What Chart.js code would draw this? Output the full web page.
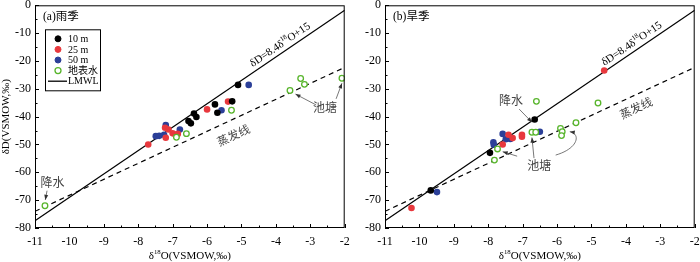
<!DOCTYPE html>
<html>
<head>
<meta charset="utf-8">
<script src="https://cdn.jsdelivr.net/npm/chart.js@4.4.0/dist/chart.umd.min.js"></script>
<style>
body { margin: 0; background: #fff; }
#wrap { display: flex; width: 700px; height: 262px; }
.box { width: 350px; height: 262px; }
</style>
</head>
<body>
<div id="wrap">
  <div class="box"><canvas id="rain" width="350" height="262"></canvas></div>
  <div class="box"><canvas id="dry" width="350" height="262"></canvas></div>
</div>
<script>
// axis ticks //
var xTicks = [-11, -10, -9, -8, -7, -6, -5, -4, -3, -2];
var yTicks = [-80, -70, -60, -50, -40, -30, -20, -10, 0];

// LMWL and evaporation line end points //
var lineX = [-11, -2];
var lmwlY = [-77.4, -1.8];
var evapY = [-74.0, -22.3];

// (a) rainy season //
var rain10X = [-5.10, -5.27, -5.77, -5.70, -6.38, -6.31, -6.54, -6.47];
var rain10Y = [-28.6, -34.5, -35.6, -38.6, -38.9, -40.1, -41.6, -42.4];
var rain25X = [-5.39, -6.00, -7.22, -7.12, -7.00, -6.85, -7.20, -7.71];
var rain25Y = [-34.6, -37.4, -44.0, -44.6, -46.0, -46.2, -47.6, -50.0];
var rain50X = [-4.79, -5.58, -7.20, -6.79, -7.49, -7.39, -7.25];
var rain50Y = [-28.6, -37.7, -43.0, -44.6, -47.0, -46.9, -46.5];
var rainSurfX = [-5.29, -6.60, -6.89, -3.59, -3.28, -3.17, -2.08, -10.71];
var rainSurfY = [-37.7, -46.1, -47.4, -30.6, -26.3, -28.4, -26.2, -72.0];

// (b) dry season //
var dry10X = [-6.65, -7.95, -9.67];
var dry10Y = [-41.0, -53.0, -66.5];
var dry25X = [-4.63, -7.02, -7.02, -7.41, -7.29, -7.58, -10.23];
var dry25Y = [-23.4, -46.5, -47.2, -46.5, -47.7, -50.0, -72.8];
var dry50X = [-6.50, -7.58, -7.49, -7.36, -7.85, -7.84, -9.49];
var dry50Y = [-45.4, -46.2, -48.1, -48.0, -49.2, -50.1, -67.1];
var drySurfX = [-6.60, -4.81, -6.73, -6.62, -5.45, -5.90, -5.85, -5.87, -7.73, -7.82];
var drySurfY = [-34.5, -35.1, -45.6, -45.6, -42.2, -44.2, -45.4, -46.8, -51.6, -55.6];

var RED = '#e8383d', BLUE = '#2b3f98', GREEN = '#58b52c';
var SERIF = "'Liberation Serif', 'Times New Roman', 'Noto Sans CJK SC', serif";
Chart.defaults.font.family = SERIF;
Chart.defaults.color = '#000';

function pts(xs, ys) {
    return xs.map(function(v, i) { return {x: v, y: ys[i]}; });
}

function lineAngle(chart, ys) {
    var sx = chart.scales.x, sy = chart.scales.y;
    return Math.atan2(sy.getPixelForValue(ys[1]) - sy.getPixelForValue(ys[0]),
                      sx.getPixelForValue(lineX[1]) - sx.getPixelForValue(lineX[0]));
}

function richText(ctx, parts, size, dy) {
    var w = 0;
    dy = dy || 0;
    parts.forEach(function(p) {
        ctx.font = (p.sup ? size * 0.62 : size) + 'px ' + SERIF;
        p.w = ctx.measureText(p.t).width;
        w += p.w;
    });
    var x = -w / 2;
    parts.forEach(function(p) {
        ctx.font = (p.sup ? size * 0.62 : size) + 'px ' + SERIF;
        ctx.textAlign = 'left';
        ctx.textBaseline = 'middle';
        ctx.fillText(p.t, x, dy + (p.sup ? -size * 0.35 : 0));
        x += p.w;
    });
}

// frame, inward ticks, axis titles //
var framePlugin = {
    id: 'frame',
    afterDraw: function(chart, args, o) {
        var ctx = chart.ctx, a = chart.chartArea;
        var sx = chart.scales.x, sy = chart.scales.y;
        ctx.save();
        ctx.strokeStyle = '#000';
        ctx.lineWidth = 1;
        ctx.strokeRect(a.left + 0.5, a.top + 0.5, a.right - a.left - 1, a.bottom - a.top - 1);
        ctx.beginPath();
        for (var v = -11; v <= -2; v += 0.5) {
            var p = Math.round(sx.getPixelForValue(v)) + 0.5;
            var len = (v % 1 === 0) ? 4 : 2.5;
            ctx.moveTo(p, a.bottom);
            ctx.lineTo(p, a.bottom - len);
        }
        for (var w = -80; w <= 0; w += 5) {
            var q = Math.round(sy.getPixelForValue(w)) + 0.5;
            var l2 = (w % 10 === 0) ? 4 : 2.5;
            ctx.moveTo(a.left, q);
            ctx.lineTo(a.left + l2, q);
        }
        ctx.stroke();

        ctx.fillStyle = '#000';
        ctx.save();
        ctx.translate((a.left + a.right) / 2, 256);
        richText(ctx, [{t: 'δ'}, {t: '18', sup: true}, {t: 'O(VSMOW,‰)'}], 11);
        ctx.restore();
        if (o.yTitle) {
            ctx.save();
            ctx.translate(6, (a.top + a.bottom) / 2);
            ctx.rotate(-Math.PI / 2);
            ctx.font = '11px ' + SERIF;
            ctx.textAlign = 'center';
            ctx.textBaseline = 'middle';
            ctx.fillText(o.yTitle, 0, 0);
            ctx.restore();
        }
        ctx.font = '11.5px ' + SERIF;
        ctx.textAlign = 'left';
        ctx.textBaseline = 'middle';
        ctx.fillText(o.panel, a.left + 8, a.top + 12);
        ctx.restore();
    }
};

// legend box inside panel a //
var boxLegend = {
    id: 'boxLegend',
    afterDraw: function(chart, args, o) {
        if (!o.show) return;
        var ctx = chart.ctx, a = chart.chartArea;
        var x0 = a.left + 10, y0 = a.top + 24;
        ctx.save();
        ctx.strokeStyle = '#000';
        ctx.lineWidth = 1;
        ctx.strokeRect(x0 + 0.5, y0 + 0.5, 55, 61);
        var items = chart.data.datasets.filter(function(d) { return d.inLegend; });
        items.forEach(function(d, i) {
            var cy = y0 + 9.5 + i * 10.6;
            if (d.type === 'line') {
                ctx.strokeStyle = d.borderColor;
                ctx.lineWidth = 1.3;
                ctx.beginPath();
                ctx.moveTo(x0 + 3, cy);
                ctx.lineTo(x0 + 22, cy);
                ctx.stroke();
            } else {
                ctx.beginPath();
                ctx.arc(x0 + 13, cy, 3, 0, Math.PI * 2);
                ctx.fillStyle = d.backgroundColor;
                ctx.fill();
                ctx.lineWidth = d.borderWidth;
                ctx.strokeStyle = d.borderColor;
                ctx.stroke();
            }
            ctx.fillStyle = '#000';
            ctx.font = '10px ' + SERIF;
            ctx.textAlign = 'left';
            ctx.textBaseline = 'middle';
            ctx.fillText(d.label, x0 + 23, cy + 0.5);
        });
        ctx.restore();
    }
};

// text labels and arrows //
var notesPlugin = {
    id: 'notes',
    afterDatasetsDraw: function(chart, args, o) {
        var ctx = chart.ctx, sx = chart.scales.x, sy = chart.scales.y;
        function P(p) { return [sx.getPixelForValue(p[0]), sy.getPixelForValue(p[1])]; }
        ctx.save();
        (o.texts || []).forEach(function(t) {
            var p = P(t.at);
            ctx.save();
            ctx.translate(p[0], p[1]);
            if (t.along) ctx.rotate(lineAngle(chart, t.along));
            ctx.fillStyle = t.color || '#000';
            if (t.parts) {
                richText(ctx, t.parts, t.size || 12, t.dy);
            } else {
                ctx.font = (t.size || 12) + 'px ' + SERIF;
                ctx.textAlign = 'center';
                ctx.textBaseline = 'middle';
                ctx.fillText(t.t, 0, t.dy || 0);
            }
            ctx.restore();
        });
        ctx.strokeStyle = '#555';
        ctx.fillStyle = '#333';
        ctx.lineWidth = 0.8;
        (o.arrows || []).forEach(function(ar) {
            var f = P(ar.from), e = P(ar.to), last = f;
            ctx.beginPath();
            ctx.moveTo(f[0], f[1]);
            if (ar.c1) {
                var c1 = P(ar.c1), c2 = P(ar.c2);
                ctx.bezierCurveTo(c1[0], c1[1], c2[0], c2[1], e[0], e[1]);
                last = c2;
            } else {
                ctx.lineTo(e[0], e[1]);
            }
            ctx.stroke();
            var ang = Math.atan2(e[1] - last[1], e[0] - last[0]);
            ctx.beginPath();
            ctx.moveTo(e[0], e[1]);
            ctx.lineTo(e[0] - 5 * Math.cos(ang) + 2 * Math.sin(ang), e[1] - 5 * Math.sin(ang) - 2 * Math.cos(ang));
            ctx.lineTo(e[0] - 5 * Math.cos(ang) - 2 * Math.sin(ang), e[1] - 5 * Math.sin(ang) + 2 * Math.cos(ang));
            ctx.closePath();
            ctx.fill();
        });
        ctx.restore();
    }
};

var eqParts = [{t: 'δD=8.4δ'}, {t: '18', sup: true}, {t: 'O+15'}];

function makeChart(id, s, opt) {
    var ctx = document.getElementById(id).getContext('2d');
    return new Chart(ctx, {
        type: 'scatter',
        data: {
            datasets: [
                {label: '10 m', data: pts(s[0], s[1]), backgroundColor: '#000', borderColor: '#000', borderWidth: 0, pointRadius: 3.3, inLegend: true, order: 1},
                {label: '25 m', data: pts(s[2], s[3]), backgroundColor: RED, borderColor: RED, borderWidth: 0, pointRadius: 3.3, inLegend: true, order: 2},
                {label: '50 m', data: pts(s[4], s[5]), backgroundColor: BLUE, borderColor: BLUE, borderWidth: 0, pointRadius: 3.3, inLegend: true, order: 3},
                {label: '地表水', data: pts(s[6], s[7]), backgroundColor: '#fff', borderColor: GREEN, borderWidth: 1.3, pointRadius: 2.8, inLegend: true, order: 0},
                {type: 'line', label: 'LMWL', data: pts(lineX, lmwlY), borderColor: '#000', borderWidth: 1.2, pointRadius: 0, inLegend: true, order: 10},
                {type: 'line', label: '蒸发线', data: pts(lineX, evapY), borderColor: '#000', borderWidth: 1.2, borderDash: [5, 4], pointRadius: 0, order: 11}
            ]
        },
        options: {
            responsive: false,
            animation: false,
            events: [],
            layout: {padding: {top: 1, right: 3, left: 0, bottom: 0}},
            plugins: {
                legend: {display: false},
                tooltip: {enabled: false},
                frame: {panel: opt.panel, yTitle: opt.yTitle},
                boxLegend: {show: opt.legend},
                notes: {texts: opt.texts, arrows: opt.arrows}
            },
            scales: {
                x: {
                    type: 'linear', min: -11, max: -2,
                    afterBuildTicks: function(sc) { sc.ticks = xTicks.map(function(v) { return {value: v}; }); },
                    afterFit: function(sc) { sc.height = 34; sc.paddingLeft = 0; sc.paddingRight = 0; },
                    grid: {display: false, drawTicks: false},
                    border: {display: false},
                    ticks: {padding: 7, font: {size: 12}, color: '#000', autoSkip: false, maxRotation: 0}
                },
                y: {
                    type: 'linear', min: -80, max: 0,
                    afterBuildTicks: function(sc) { sc.ticks = yTicks.map(function(v) { return {value: v}; }); },
                    afterFit: function(sc) { sc.width = 35; sc.paddingTop = 0; sc.paddingBottom = 0; },
                    grid: {display: false, drawTicks: false},
                    border: {display: false},
                    ticks: {padding: 4, font: {size: 12}, color: '#000', autoSkip: false}
                }
            }
        },
        plugins: [framePlugin, boxLegend, notesPlugin]
    });
}

var rainChart = makeChart('rain', [rain10X, rain10Y, rain25X, rain25Y, rain50X, rain50Y, rainSurfX, rainSurfY], {
    panel: '(a)雨季',
    yTitle: 'δD(VSMOW,‰)',
    legend: true,
    texts: [
        {parts: eqParts, at: [-3.75, -16.5], along: lmwlY, size: 11, dy: -7.5},
        {t: '蒸发线', at: [-5.22, -47.1], along: evapY, color: '#444', size: 11.5},
        {t: '池塘', at: [-2.57, -37.3], color: '#444'},
        {t: '降水', at: [-10.49, -64.1], color: '#444'}
    ],
    arrows: [
        {from: [-2.83, -35.8], to: [-3.43, -31.9]},
        {from: [-2.25, -33.6], to: [-2.08, -28.0]},
        {from: [-10.65, -66.6], to: [-10.70, -69.9]}
    ]
});

var dryChart = makeChart('dry', [dry10X, dry10Y, dry25X, dry25Y, dry50X, dry50Y, drySurfX, drySurfY], {
    panel: '(b)旱季',
    yTitle: null,
    legend: false,
    texts: [
        {parts: eqParts, at: [-3.70, -16.1], along: lmwlY, size: 11, dy: -7.5},
        {t: '蒸发线', at: [-3.69, -37.3], along: evapY, color: '#444', size: 11.5},
        {t: '池塘', at: [-6.52, -58.1], color: '#444'},
        {t: '降水', at: [-7.34, -34.8], color: '#444'}
    ],
    arrows: [
        {from: [-7.10, -37.3], to: [-6.73, -42.0]},
        {from: [-6.67, -54.9], to: [-6.73, -47.5]},
        {from: [-7.16, -54.2], to: [-7.58, -52.6]},
        {from: [-6.04, -53.8], c1: [-5.37, -51.4], c2: [-5.31, -46.1], to: [-5.63, -45.4]}
    ]
});

document.title = 'δD - δ18O';
</script>
</body>
</html>
